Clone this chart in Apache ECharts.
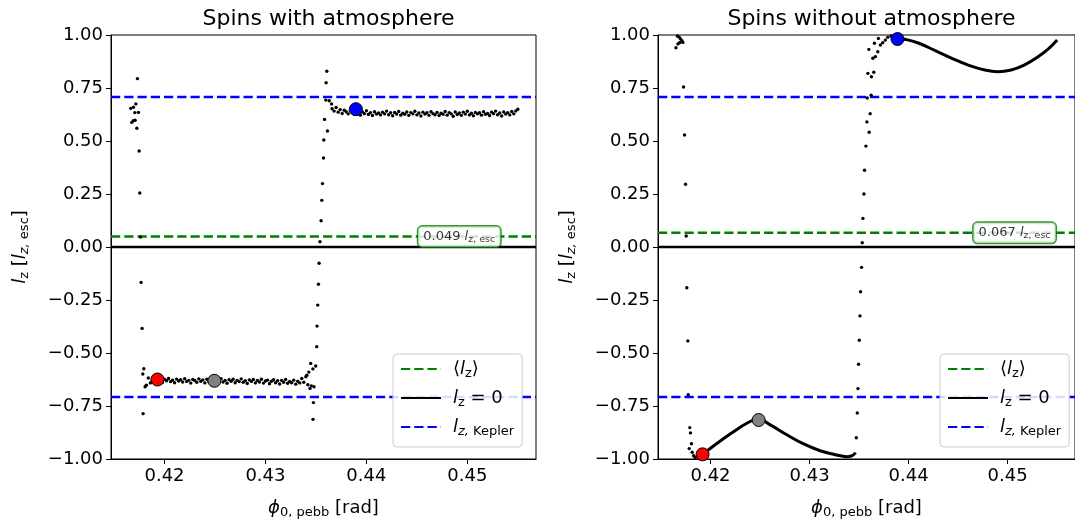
<!DOCTYPE html>
<html><head><meta charset="utf-8">
<script src="https://cdn.jsdelivr.net/npm/echarts@6/dist/echarts.min.js"></script>
<style>html,body{margin:0;padding:0;background:#fff}#c{width:1075px;height:524px}</style>
</head><body><div id="c"></div>
<script>
const titles = ['Spins with atmosphere', 'Spins without atmosphere'];
const xTickValues = [0.42, 0.43, 0.44, 0.45];
const xRange = [0.4147, 0.4568];
const yRange = [-1, 1];
const meanValues = [0.049, 0.067];
const keplerValue = 0.707;
const annotX = [0.4492, 0.4507];

const leftDots = [
[0.41732,0.794],[0.41716,0.675],[0.41666,0.654],[0.41692,0.659],[0.41706,0.634],[0.41742,0.635],[0.41676,0.588],[0.41692,0.596],[0.41709,0.598],[0.41726,0.560],[0.41749,0.453],[0.41755,0.255],[0.41762,0.047],[0.41768,-0.167],[0.41778,-0.384],[0.41795,-0.574],[0.41785,-0.599],[0.41808,-0.659],[0.41788,-0.786],
[0.4182,-0.652],[0.4184,-0.618],[0.4186,-0.641],[0.4188,-0.629],[0.4190,-0.636],[0.4192,-0.622],[0.4194,-0.633],[0.4196,-0.627],[0.4198,-0.639],[0.4200,-0.624],
[0.4202,-0.631],[0.4204,-0.620],[0.4206,-0.635],[0.4208,-0.628],[0.4210,-0.640],[0.4212,-0.623],[0.4214,-0.632],[0.4216,-0.626],[0.4218,-0.637],[0.4220,-0.621],
[0.4222,-0.634],[0.4224,-0.629],[0.4226,-0.642],[0.4228,-0.625],[0.4230,-0.630],[0.4232,-0.638],[0.4234,-0.622],[0.4236,-0.633],[0.4238,-0.627],[0.4240,-0.641],
[0.4242,-0.624],[0.4244,-0.636],[0.4246,-0.630],[0.4248,-0.623],[0.4250,-0.639],[0.4252,-0.628],[0.4254,-0.634],[0.4256,-0.621],[0.4258,-0.637],[0.4260,-0.630],
[0.4262,-0.643],[0.4264,-0.626],[0.4266,-0.633],[0.4268,-0.624],[0.4270,-0.640],[0.4272,-0.629],[0.4274,-0.635],[0.4276,-0.622],[0.4278,-0.638],[0.4280,-0.631],
[0.4282,-0.644],[0.4284,-0.627],[0.4286,-0.634],[0.4288,-0.625],[0.4290,-0.641],[0.4292,-0.630],[0.4294,-0.637],[0.4296,-0.624],[0.4298,-0.642],[0.4300,-0.632],
[0.4302,-0.628],[0.4304,-0.645],[0.4306,-0.633],[0.4308,-0.626],[0.4310,-0.640],[0.4312,-0.631],[0.4314,-0.646],[0.4316,-0.629],[0.4318,-0.638],[0.4320,-0.625],
[0.4322,-0.643],[0.4324,-0.634],[0.4326,-0.640],[0.4328,-0.628],[0.4330,-0.647],[0.4332,-0.633],[0.4334,-0.641],[0.4336,-0.620],[0.4338,-0.638],[0.4340,-0.612],[0.4342,-0.650],
[0.43448,-0.549],[0.43498,-0.561],[0.43470,-0.575],[0.43430,-0.590],[0.43410,-0.605],[0.43441,-0.667],[0.43481,-0.659],[0.43455,-0.655],[0.43475,-0.734],[0.43471,-0.813],
[0.43508,-0.470],[0.43511,-0.373],[0.43518,-0.274],[0.43525,-0.176],[0.43531,-0.077],[0.43540,0.025],[0.43551,0.124],[0.43558,0.220],[0.43565,0.299],[0.43575,0.420],
[0.43578,0.505],[0.43614,0.547],[0.43585,0.602],[0.43601,0.775],[0.43608,0.829],[0.43598,0.693],[0.43631,0.690],[0.43655,0.675],
[0.4366,0.652],[0.4368,0.641],[0.4370,0.658],[0.4372,0.636],[0.4374,0.648],[0.4376,0.630],[0.4378,0.645],[0.4380,0.638],[0.4382,0.628],[0.4384,0.642],
[0.4386,0.633],[0.4388,0.626],[0.4390,0.640],[0.4392,0.631],[0.4394,0.622],[0.4396,0.637],[0.4398,0.629],[0.4400,0.643],[0.4402,0.625],[0.4404,0.634],
[0.4406,0.620],[0.4408,0.638],[0.4410,0.627],[0.4412,0.632],[0.4414,0.623],[0.4416,0.636],[0.4418,0.628],[0.4420,0.641],[0.4422,0.624],[0.4424,0.633],
[0.4426,0.619],[0.4428,0.635],[0.4430,0.627],[0.4432,0.639],[0.4434,0.622],[0.4436,0.631],[0.4438,0.626],[0.4440,0.637],[0.4442,0.621],[0.4444,0.634],
[0.4446,0.628],[0.4448,0.640],[0.4450,0.623],[0.4452,0.632],[0.4454,0.618],[0.4456,0.636],[0.4458,0.627],[0.4460,0.633],[0.4462,0.621],[0.4464,0.638],
[0.4466,0.629],[0.4468,0.624],[0.4470,0.635],[0.4472,0.620],[0.4474,0.631],[0.4476,0.626],[0.4478,0.639],[0.4480,0.622],[0.4482,0.634],[0.4484,0.628],
[0.4486,0.617],[0.4488,0.637],[0.4490,0.625],[0.4492,0.632],[0.4494,0.621],[0.4496,0.636],[0.4498,0.627],[0.4500,0.640],[0.4502,0.623],[0.4504,0.631],
[0.4506,0.619],[0.4508,0.635],[0.4510,0.628],[0.4512,0.633],[0.4514,0.622],[0.4516,0.638],[0.4518,0.626],[0.4520,0.630],[0.4522,0.620],[0.4524,0.636],
[0.4526,0.629],[0.4528,0.641],[0.4530,0.624],[0.4532,0.632],[0.4534,0.618],[0.4536,0.637],[0.4538,0.627],[0.4540,0.634],[0.4542,0.623],[0.4544,0.639],
[0.4546,0.628],[0.4548,0.642],[0.4550,0.650]
];

const rightDots = [
[0.41665,0.995],[0.41685,0.989],[0.41698,0.981],[0.41711,0.973],[0.41721,0.965],[0.41688,0.964],[0.41671,0.958],[0.41651,0.940],[0.41728,0.755],[0.41738,0.528],
[0.41748,0.296],[0.41755,0.052],[0.41761,-0.192],[0.41771,-0.443],[0.41775,-0.697],[0.41791,-0.852],[0.41798,-0.877],[0.41808,-0.928],[0.41785,-0.951],[0.41815,-0.968],
[0.41830,-0.985],[0.41845,-0.993],
[0.43472,-0.900],[0.43482,-0.783],[0.43489,-0.668],[0.43495,-0.553],[0.43502,-0.440],[0.43509,-0.325],[0.43515,-0.211],[0.43525,-0.096],[0.43532,0.020],[0.43539,0.135],
[0.43549,0.250],[0.43555,0.362],[0.43569,0.476],[0.43602,0.541],[0.43579,0.590],[0.43612,0.629],[0.43582,0.703],[0.43622,0.716],[0.43589,0.819],[0.43625,0.803],
[0.43649,0.824],[0.43639,0.890],[0.43665,0.898],[0.43689,0.921],[0.43599,0.932],[0.43655,0.961],[0.43695,0.984],[0.43715,0.953],[0.43739,0.964],[0.43765,0.976],
[0.43789,0.989],[0.43822,0.995]
];

const rightLowerCurve = [
[0.41920,-0.978],[0.42044,-0.934],[0.42209,-0.879],[0.42376,-0.829],[0.42486,-0.813],[0.42608,-0.840],[0.42775,-0.887],[0.42941,-0.929],
[0.43107,-0.961],[0.43273,-0.981],[0.43373,-0.989],[0.43423,-0.986],[0.43466,-0.970]
];
const rightUpperCurve = [
[0.43888,0.985],[0.43971,0.979],[0.44104,0.961],[0.44270,0.926],[0.44437,0.890],[0.44602,0.858],[0.44769,0.835],[0.44901,0.827],
[0.45035,0.835],[0.45167,0.858],[0.45300,0.895],[0.45417,0.937],[0.45500,0.976]
];

const leftRed = [0.41930, -0.625];
const leftGray = [0.42494, -0.631];
const leftBlue = [0.43896, 0.650];
const rightRed = [0.41920, -0.978];
const rightGray = [0.42486, -0.816];
const rightBlue = [0.43888, 0.981];

const FONT = 'DejaVu Sans';
const richBase = {
  sp: {width: 7},
  n: {fontSize: 18, lineHeight: 22, fontFamily: FONT, color: '#000'},
  i: {fontSize: 18, lineHeight: 22, fontStyle: 'italic', fontFamily: FONT, color: '#000'},
  sub: {fontSize: 13, lineHeight: 13, verticalAlign: 'bottom', fontFamily: FONT, color: '#000'},
  subi: {fontSize: 13, lineHeight: 13, verticalAlign: 'bottom', fontStyle: 'italic', fontFamily: FONT, color: '#000'}
};
const legendLabels = {
  mean: '{sp|}{n|⟨}{i|l}{sub|z}{n|⟩}',
  zero: '{sp|}{i|l}{sub|z}{n| = 0}',
  kepler: '{sp|}{i|l}{subi|z,}{sub| Kepler}'
};

const grids = [
  {left: 111, top: 35, width: 425, height: 424},
  {left: 658, top: 35, width: 423, height: 424}
];

function xAxisFor(i) {
  return {
    type: 'value', gridIndex: i, min: xRange[0], max: xRange[1],
    splitLine: {show: false},
    axisLine: {show: true, onZero: false, lineStyle: {color: '#000', width: 1}},
    axisTick: {show: true, length: 5, lineStyle: {color: '#000'}, customValues: xTickValues},
    axisLabel: {show: true, customValues: xTickValues, fontSize: 18, fontFamily: FONT, color: '#000', margin: 8,
      formatter: v => v.toFixed(2)},
    name: '{i|ϕ}{sub|0, pebb}{n| [rad]}', nameLocation: 'middle', nameGap: 38,
    nameTextStyle: {rich: richBase}
  };
}
function yAxisFor(i) {
  return {
    type: 'value', gridIndex: i, min: yRange[0], max: yRange[1], interval: 0.25,
    splitLine: {show: false},
    axisLine: {show: true, onZero: false, lineStyle: {color: '#000', width: 1}},
    axisTick: {show: true, length: 5, lineStyle: {color: '#000'}},
    axisLabel: {fontSize: 18, fontFamily: FONT, color: '#000', margin: 8,
      formatter: v => v.toFixed(2).replace('-', '\u2212')},
    name: '{i|l}{sub|z}{n| [}{i|l}{subi|z,}{sub| esc}{n|]}', nameLocation: 'middle', nameRotate: 90, nameGap: 80,
    nameTextStyle: {rich: richBase}
  };
}

function hline(i, name, v, color, type) {
  return {
    type: 'line', name: name, xAxisIndex: i, yAxisIndex: i, data: [[xRange[0], v], [xRange[1], v]],
    symbol: 'none', showSymbol: false, z: 2, silent: true,
    lineStyle: {color: color, width: 2.5, type: type},
    itemStyle: {color: color}
  };
}
function marker(i, pt, color) {
  return {
    type: 'scatter', xAxisIndex: i, yAxisIndex: i, data: [pt], symbolSize: 13, z: 6, silent: true,
    itemStyle: {color: color, borderColor: '#000', borderWidth: 1, opacity: 1}
  };
}
function dots(i, data) {
  return {
    type: 'scatter', xAxisIndex: i, yAxisIndex: i, data: data, symbolSize: 3.4, z: 4, silent: true,
    itemStyle: {color: '#000', opacity: 1}
  };
}
function curve(i, data) {
  return {
    type: 'line', xAxisIndex: i, yAxisIndex: i, data: data, smooth: 0.4, symbol: 'none', z: 4, silent: true,
    lineStyle: {color: '#000', width: 3}
  };
}
function annotation(i) {
  return {
    type: 'scatter', xAxisIndex: i, yAxisIndex: i, data: [[annotX[i], meanValues[i]]], symbolSize: 1, z: 7, silent: true,
    itemStyle: {color: 'rgba(0,0,0,0)'},
    label: {
      show: true, position: 'inside',
      formatter: '{n|' + meanValues[i].toFixed(3) + ' }{i|l}{sub|z, esc}',
      backgroundColor: '#fff', borderColor: '#008000', borderWidth: 1.5, borderRadius: 4, padding: [2, 5, 2, 5],
      rich: {
        n: {fontSize: 13, lineHeight: 16, fontFamily: FONT, color: '#000'},
        i: {fontSize: 13, lineHeight: 16, fontStyle: 'italic', fontFamily: FONT, color: '#000'},
        sub: {fontSize: 9.5, lineHeight: 10, verticalAlign: 'bottom', fontFamily: FONT, color: '#000'}
      }
    }
  };
}

const series = [];
[0, 1].forEach(i => {
  series.push(hline(i, 'mean', meanValues[i], '#008000', [9.25, 4]));
  series.push(hline(i, 'zero', 0, '#000000', 'solid'));
  series.push(hline(i, 'kepler', keplerValue, '#0000ff', [9.25, 4]));
  series.push(hline(i, 'kepler', -keplerValue, '#0000ff', [9.25, 4]));
});
series.push(dots(0, leftDots));
series.push(dots(1, rightDots));
series.push(curve(1, rightLowerCurve));
series.push(curve(1, rightUpperCurve));
series.push(marker(0, leftRed, '#ff0000'), marker(0, leftGray, '#808080'), marker(0, leftBlue, '#0000ff'));
series.push(marker(1, rightRed, '#ff0000'), marker(1, rightGray, '#808080'), marker(1, rightBlue, '#0000ff'));
series.push(annotation(0), annotation(1));

const legendLefts = [393, 940];
const option = {
  animation: false,
  backgroundColor: '#fff',
  title: titles.map((t, i) => ({
    text: t, left: grids[i].left + grids[i].width / 2 - (i ? 3 : 0), top: 3, textAlign: 'center',
    textStyle: {fontSize: 22, fontWeight: 'normal', fontFamily: FONT, color: '#000'}
  })),
  grid: grids.map(g => Object.assign({show: true, borderColor: '#000', borderWidth: 1, backgroundColor: 'transparent'}, g)),
  xAxis: [xAxisFor(0), xAxisFor(1)],
  yAxis: [yAxisFor(0), yAxisFor(1)],
  legend: legendLefts.map(l => ({
    data: ['mean', 'zero', 'kepler'], orient: 'vertical', left: l, top: 354,
    itemWidth: 40, itemHeight: 20, itemGap: 9, padding: [6, 8, 9, 7],
    backgroundColor: 'rgba(255,255,255,0.85)', borderColor: '#cccccc', borderWidth: 1, borderRadius: 4,
    selectedMode: false, formatter: n => legendLabels[n],
    itemStyle: {opacity: 0},
    lineStyle: {opacity: 1},
    textStyle: {fontSize: 18, fontFamily: FONT, color: '#000', rich: richBase}
  })),
  series: series
};
const chart = echarts.init(document.getElementById('c'), null, {renderer: 'canvas'});
chart.setOption(option);
</script></body></html>
